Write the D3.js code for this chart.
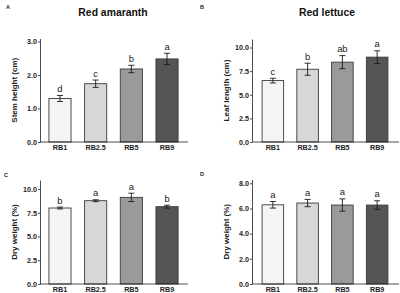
<!DOCTYPE html>
<html>
<head>
<meta charset="utf-8">
<script src="https://cdn.jsdelivr.net/npm/d3@7"></script>
<style>
body { margin: 0; background: #fff; }
svg { display: block; font-family: "Liberation Sans", Arial, sans-serif; }
.axis text { font-weight: bold; font-size: 7.2px; fill: #222; }
.axis path, .axis line { stroke: #222; stroke-width: 0.8; }
</style>
</head>
<body>
<div id="chart"></div>
<script>
'use strict';

// treatments, shared by all four panels
const treatments = ["RB1", "RB2.5", "RB5", "RB9"];
const fills = ["#f4f4f4", "#d7d7d7", "#9a9a9a", "#555555"];

// A: red amaranth stem height (cm)
const stemHeight = [1.3, 1.74, 2.18, 2.48];
const stemHeightErr = [0.09, 0.11, 0.11, 0.17];
const stemHeightLetters = ["d", "c", "b", "a"];
const stemTicks = [0.0, 1.0, 2.0, 3.0];

// B: red lettuce leaf length (cm)
const leafLength = [6.5, 7.7, 8.45, 8.98];
const leafLengthErr = [0.25, 0.64, 0.69, 0.67];
const leafLengthLetters = ["c", "b", "ab", "a"];
const leafTicks = [0.0, 2.5, 5.0, 7.5, 10.0];

// C: red amaranth dry weight (%)
const dryAmaranth = [8.0, 8.77, 9.12, 8.14];
const dryAmaranthErr = [0.1, 0.1, 0.44, 0.15];
const dryAmaranthLetters = ["b", "a", "a", "b"];
const dryAmaranthTicks = [0.0, 2.5, 5.0, 7.5, 10.0];

// D: red lettuce dry weight (%)
const dryLettuce = [6.29, 6.43, 6.27, 6.27];
const dryLettuceErr = [0.26, 0.29, 0.49, 0.34];
const dryLettuceLetters = ["a", "a", "a", "a"];
const dryLettuceTicks = [0.0, 2.0, 4.0, 6.0, 8.0];

const width = 400, height = 293;

const svg = d3.select("#chart")
	.append("svg")
		.attr("width", width)
		.attr("height", height);

function panel(opt) {
	const x = d3.scaleBand()
		.domain(treatments)
		.range([opt.left, opt.right])
		.paddingInner(0.38)
		.paddingOuter(opt.outer);

	const y = d3.scaleLinear()
		.domain([0, opt.ymax])
		.range([opt.bottom, opt.top]);

	const g = svg.append("g");

	// bars
	g.selectAll("rect.bar")
		.data(opt.values)
		.join("rect")
			.attr("class", "bar")
			.attr("x", (d, i) => x(treatments[i]))
			.attr("y", d => y(d))
			.attr("width", x.bandwidth())
			.attr("height", d => y(0) - y(d))
			.attr("fill", (d, i) => fills[i])
			.attr("stroke", "#3a3a3a")
			.attr("stroke-width", 0.9);

	// error bars
	const eb = g.selectAll("g.err")
		.data(opt.values)
		.join("g")
			.attr("class", "err")
			.attr("stroke", "#1a1a1a")
			.attr("stroke-width", 0.9);
	const cx = (i) => x(treatments[i]) + x.bandwidth() / 2;
	eb.append("line")
		.attr("x1", (d, i) => cx(i)).attr("x2", (d, i) => cx(i))
		.attr("y1", (d, i) => y(d - opt.err[i]))
		.attr("y2", (d, i) => y(d + opt.err[i]));
	[-1, 1].forEach(s => {
		eb.append("line")
			.attr("x1", (d, i) => cx(i) - 3).attr("x2", (d, i) => cx(i) + 3)
			.attr("y1", (d, i) => y(d + s * opt.err[i]))
			.attr("y2", (d, i) => y(d + s * opt.err[i]));
	});

	// significance letters
	g.selectAll("text.sig")
		.data(opt.values)
		.join("text")
			.attr("class", "sig")
			.attr("x", (d, i) => cx(i))
			.attr("y", (d, i) => y(d + opt.err[i]) - 3.5)
			.attr("text-anchor", "middle")
			.attr("font-size", "9.4px")
			.attr("fill", "#222")
			.text((d, i) => opt.letters[i]);

	// axes
	g.append("g")
		.attr("class", "axis")
		.attr("transform", `translate(${opt.left},0)`)
		.call(d3.axisLeft(y)
			.tickValues(opt.ticks)
			.tickFormat(d3.format(".1f"))
			.tickSize(2)
			.tickSizeOuter(0)
			.tickPadding(1));

	const xa = g.append("g")
		.attr("class", "axis")
		.attr("transform", `translate(0,${opt.bottom})`)
		.call(d3.axisBottom(x)
			.tickSize(0)
			.tickPadding(2.5));
	xa.select(".domain").attr("d", `M${opt.left},0H${opt.right + 1}`);
	xa.selectAll("text").attr("font-size", "7.4px");

	// y axis title
	g.append("text")
		.attr("transform", `translate(${opt.left - 26},${(opt.top + opt.bottom) / 2}) rotate(-90)`)
		.attr("text-anchor", "middle")
		.attr("dy", "0.35em")
		.attr("font-weight", "bold")
		.attr("font-size", "8px")
		.attr("fill", "#222")
		.text(opt.ylabel);

	// panel letter
	svg.append("text")
		.attr("x", opt.tagX)
		.attr("y", opt.tagY)
		.attr("font-weight", "bold")
		.attr("font-size", "5.5px")
		.attr("fill", "#222")
		.text(opt.tag);

	if (opt.title) {
		svg.append("text")
			.attr("x", opt.titleX)
			.attr("y", 16)
			.attr("text-anchor", "middle")
			.attr("font-weight", "bold")
			.attr("font-size", "10.4px")
			.attr("fill", "#111")
			.text(opt.title);
	}
}

panel({ left: 40, right: 187, outer: 0.25, top: 38.5, bottom: 142, ymax: 3.09,
	values: stemHeight, err: stemHeightErr, letters: stemHeightLetters, ticks: stemTicks,
	ylabel: "Stem height (cm)", tag: "A", tagX: 6, tagY: 9, title: "Red amaranth", titleX: 113 });

panel({ left: 252, right: 398, outer: 0.29, top: 39, bottom: 142, ymax: 10.9,
	values: leafLength, err: leafLengthErr, letters: leafLengthLetters, ticks: leafTicks,
	ylabel: "Leaf length (cm)", tag: "B", tagX: 200, tagY: 9, title: "Red lettuce", titleX: 327 });

panel({ left: 40, right: 187, outer: 0.25, top: 180, bottom: 284, ymax: 10.95,
	values: dryAmaranth, err: dryAmaranthErr, letters: dryAmaranthLetters, ticks: dryAmaranthTicks,
	ylabel: "Dry weight (%)", tag: "C", tagX: 4, tagY: 177 });

panel({ left: 252, right: 398, outer: 0.29, top: 179.5, bottom: 284, ymax: 8.3,
	values: dryLettuce, err: dryLettuceErr, letters: dryLettuceLetters, ticks: dryLettuceTicks,
	ylabel: "Dry weight (%)", tag: "D", tagX: 200, tagY: 176 });
</script>
</body>
</html>
